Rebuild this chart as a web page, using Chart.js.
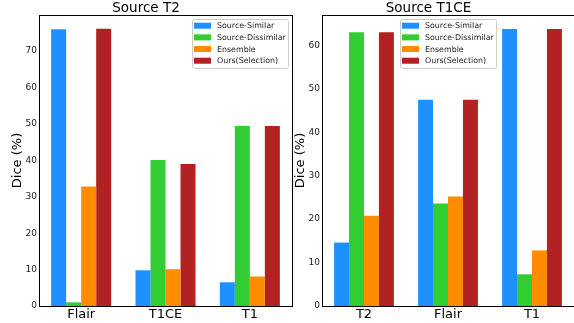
<!DOCTYPE html>
<html>
<head>
<meta charset="utf-8">
<script src="https://cdn.jsdelivr.net/npm/chart.js@4.4.1/dist/chart.umd.min.js"></script>
<style>
  body { margin: 0; background: #fff; }
  #wrap { position: relative; width: 574px; height: 323px; overflow: hidden; }
  #leftBox { position: absolute; left: 0; top: 0; width: 300px; height: 323px; }
  #rightBox { position: absolute; left: 283px; top: 0; width: 291px; height: 323px; }
</style>
</head>
<body>
<div id="wrap">
  <div id="leftBox"><canvas id="leftChart" width="300" height="323"></canvas></div>
  <div id="rightBox"><canvas id="rightChart" width="291" height="323"></canvas></div>
</div>
<script>
const seriesLabels = ["Source-Similar", "Source-Dissimilar", "Ensemble", "Ours(Selection)"];
const seriesColors = ["#1E90FF", "#32CD32", "#FF8C00", "#B22222"];

// Source T2
const categoriesT2 = ["Flair", "T1CE", "T1"];
const similarT2 = [76.0, 9.8, 6.5];
const dissimilarT2 = [1.0, 40.1, 49.4];
const ensembleT2 = [32.8, 10.1, 8.1];
const oursT2 = [76.1, 39.0, 49.4];
const yTicksT2 = [0, 10, 20, 30, 40, 50, 60, 70];

// Source T1CE
const categoriesT1CE = ["T2", "Flair", "T1"];
const similarT1CE = [14.6, 47.5, 63.8];
const dissimilarT1CE = [63.0, 23.6, 7.3];
const ensembleT1CE = [20.8, 25.2, 12.8];
const oursT1CE = [63.0, 47.5, 63.8];
const yTicksT1CE = [0, 10, 20, 30, 40, 50, 60];

const FONT = "'DejaVu Sans', sans-serif";

// frame (top/right spines) + legend drawn inside the plot
const framePlugin = {
  id: "frameLegend",
  afterDatasetsDraw(chart, args, opts) {
    const { ctx, chartArea: a } = chart;
    ctx.save();
    ctx.strokeStyle = "#000";
    ctx.lineWidth = 1;
    ctx.beginPath();
    ctx.moveTo(a.left, a.top + 0.5);
    ctx.lineTo(a.right + 1, a.top + 0.5);
    if (opts.right) {
      ctx.moveTo(a.right + 0.5, a.top);
      ctx.lineTo(a.right + 0.5, a.bottom);
    }
    ctx.stroke();

    // legend box
    const bx = opts.x, by = opts.y, bw = 96, bh = 49;
    ctx.fillStyle = "rgba(255,255,255,0.8)";
    ctx.strokeStyle = "#cccccc";
    ctx.beginPath();
    ctx.roundRect(bx + 0.5, by + 0.5, bw, bh, 2);
    ctx.fill();
    ctx.stroke();
    ctx.font = "7.9px " + FONT;
    ctx.textBaseline = "middle";
    ctx.textAlign = "left";
    chart.data.datasets.forEach((ds, i) => {
      const cy = by + 6.7 + i * 11.67;
      ctx.fillStyle = ds.backgroundColor;
      ctx.fillRect(bx + 2, cy - 3, 17, 6);
      ctx.fillStyle = "#222";
      ctx.fillText(ds.label, bx + 25, cy + 0.5);
    });
    ctx.restore();
  }
};

function makeChart(id, title, categories, values, yMax, yTicks, legendPos, drawRight, padRight) {
  return new Chart(document.getElementById(id), {
    type: "bar",
    data: {
      labels: categories,
      datasets: values.map((v, i) => ({
        label: seriesLabels[i],
        data: v,
        backgroundColor: seriesColors[i],
        categoryPercentage: 0.712,
        barPercentage: 1.0,
      })),
    },
    options: {
      responsive: false,
      animation: false,
      layout: { padding: { left: 0, right: padRight, top: 0, bottom: 0 } },
      plugins: {
        legend: { display: false },
        tooltip: { enabled: false },
        title: {
          display: true,
          text: title,
          color: "#000",
          font: { family: FONT, size: 13.5, weight: "normal", lineHeight: 1.0 },
          padding: { top: 1.5, bottom: 0 },
        },
        frameLegend: { x: legendPos[0], y: legendPos[1], right: drawRight },
      },
      scales: {
        x: {
          grid: { display: false, drawTicks: false },
          border: { display: true, color: "#000", width: 1 },
          ticks: { color: "#000", padding: 1, font: { family: FONT, size: 13 } },
          afterFit(scale) { scale.height = 17; },
        },
        y: {
          min: 0,
          max: yMax,
          grid: { display: false, drawTicks: false },
          border: { display: true, color: "#000", width: 1 },
          ticks: {
            color: "#222",
            padding: 2,
            font: { family: FONT, size: 9 },
          },
          afterBuildTicks(scale) {
            scale.ticks = yTicks.map(v => ({ value: v }));
          },
          title: {
            display: true,
            text: "Dice (%)",
            color: "#000",
            font: { family: FONT, size: 13 },
            padding: { top: 10, bottom: 0 },
          },
          afterFit(scale) { scale.width = 39; },
        },
      },
    },
    plugins: [framePlugin],
  });
}

makeChart("leftChart", "Source T2", categoriesT2,
  [similarT2, dissimilarT2, ensembleT2, oursT2], 79.9, yTicksT2, [192, 19], true, 8);
makeChart("rightChart", "Source T1CE", categoriesT1CE,
  [similarT1CE, dissimilarT1CE, ensembleT1CE, oursT1CE], 67.0, yTicksT1CE, [117, 19], false, 0);
</script>
</body>
</html>
